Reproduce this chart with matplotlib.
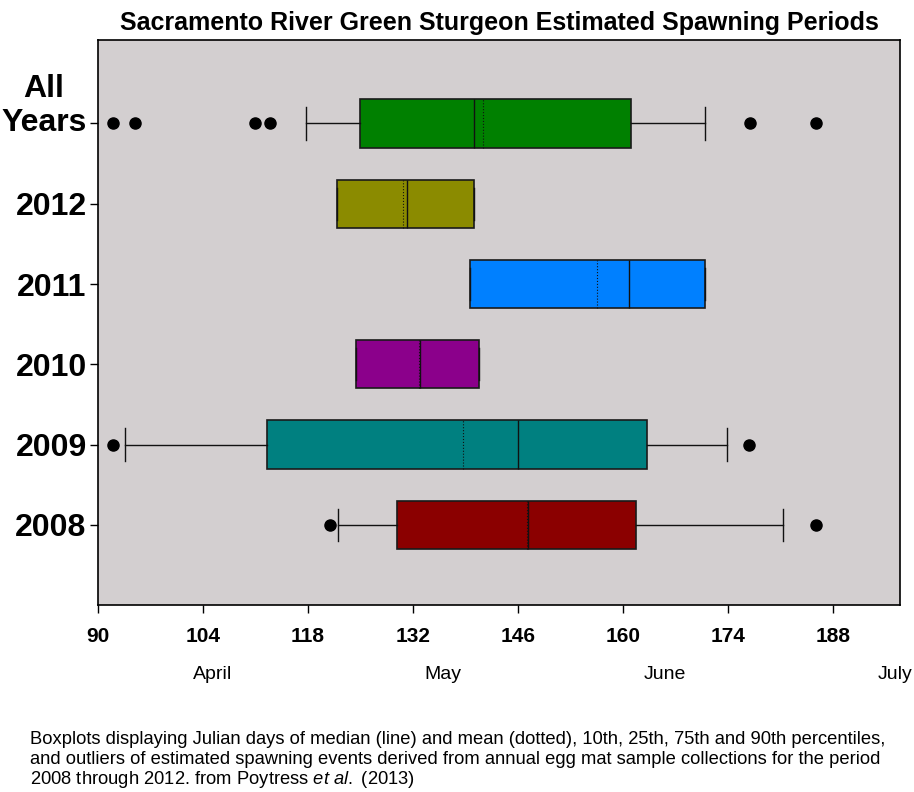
import matplotlib
matplotlib.use("Agg")
import matplotlib.pyplot as plt
import matplotlib.transforms as mtransforms

plt.rcParams['font.family'] = ['Liberation Sans', 'DejaVu Sans']
plt.rcParams['mathtext.fontset'] = 'custom'
plt.rcParams['mathtext.it'] = 'Liberation Sans:italic'
plt.rcParams['mathtext.rm'] = 'Liberation Sans'

# bottom to top
groups = ["2008", "2009", "2010", "2011", "2012", "All\nYears"]
q1 = [129.9, 112.5, 124.4, 139.6, 121.9, 124.9]
med = [147.4, 146.0, 132.9, 160.8, 131.2, 140.1]
mean = [147.2, 138.7, 132.8, 156.5, 130.7, 141.4]
q3 = [161.7, 163.2, 140.8, 171.0, 140.1, 161.1]
whislo = [122.0, 93.6, 124.4, 139.6, 121.9, 117.8]
whishi = [181.4, 173.9, 140.8, 171.0, 140.1, 171.0]
fliers = [
    [120.9, 185.8],
    [92.0, 176.8],
    [],
    [],
    [],
    [92.0, 95.0, 110.9, 112.9, 176.9, 185.8],
]
colors = ["#8b0000", "#008080", "#8b008b", "#0080ff", "#8b8b00", "#008000"]

xticks = [90, 104, 118, 132, 146, 160, 174, 188]
months = ["April", "May", "June", "July"]
month_pos = [105.3, 136.0, 165.6, 196.3]

fig = plt.figure(figsize=(9.14, 7.92), dpi=100)
ax = fig.add_axes([0.107, 0.236, 0.878, 0.7135])
ax.set_facecolor("#d3cfd0")

stats = []
for i in range(len(groups)):
    stats.append(dict(label=groups[i], q1=q1[i], med=med[i], mean=mean[i],
                      q3=q3[i], whislo=whislo[i], whishi=whishi[i],
                      fliers=fliers[i]))

pos = list(range(1, len(groups) + 1))
bp = ax.bxp(stats, positions=pos, vert=False, widths=0.6, capwidths=0.4,
            patch_artist=True, showmeans=True, meanline=True,
            boxprops=dict(linewidth=1.2, edgecolor="#1a1a1a"),
            medianprops=dict(color="#111111", linewidth=1.0),
            meanprops=dict(color="#111111", linewidth=0.8, linestyle=":"),
            whiskerprops=dict(color="#111111", linewidth=1.0),
            capprops=dict(color="#111111", linewidth=1.0),
            flierprops=dict(marker="o", markerfacecolor="black",
                            markeredgecolor="black", markersize=8))
for patch, c in zip(bp["boxes"], colors):
    patch.set_facecolor(c)

ax.set_xlim(90, 197)
ax.set_ylim(0, 7.04)
ax.set_xticks(xticks)
ax.set_xticklabels([str(t) for t in xticks], fontsize=15, fontweight="bold")
ax.set_yticks(pos)
ax.set_yticklabels(groups, fontsize=23, fontweight="bold", multialignment="center")
ax.tick_params(axis="both", direction="out", length=6, width=1, colors="black")
ax.tick_params(axis="x", pad=10)
ax.tick_params(axis="y", pad=2)
for s in ax.spines.values():
    s.set_linewidth(1.2)

# "All Years": second line sits on the tick
top_lbl = ax.get_yticklabels()[-1]
top_lbl.set_verticalalignment("bottom")
top_lbl.set_transform(top_lbl.get_transform() +
                      mtransforms.ScaledTranslation(0, -0.15, fig.dpi_scale_trans))

ax.set_title("Sacramento River Green Sturgeon Estimated Spawning Periods",
             fontsize=18, fontweight="bold", pad=7)

trans = mtransforms.blended_transform_factory(ax.transData, fig.transFigure)
for m, p in zip(months, month_pos):
    ax.text(p, 1 - 679 / 792, m, transform=trans, ha="center", va="baseline",
            fontsize=14)

caption = ["Boxplots displaying Julian days of median (line) and mean (dotted), 10th, 25th, 75th and 90th percentiles,",
           "and outliers of estimated spawning events derived from annual egg mat sample collections for the period",
           r"2008 through 2012. from Poytress $\it{et\ al.}$ (2013)"]
for k, line in enumerate(caption):
    fig.text(30 / 914, 1 - (740 + 20 * k) / 792, line, ha="left", va="center",
             fontsize=13.2)

fig.savefig("out.png", dpi=100)
